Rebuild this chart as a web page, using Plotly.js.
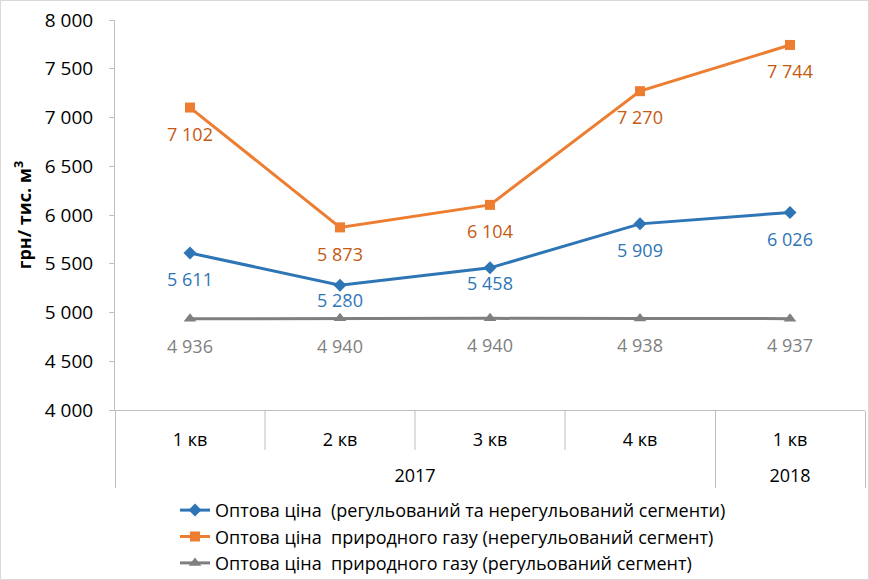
<!DOCTYPE html>
<html><head><meta charset="utf-8">
<script src="https://cdn.plot.ly/plotly-3.0.1.min.js"></script>
<style>
body{margin:0;background:#fff;}
#chart{width:869px;height:580px;}
#frame{position:absolute;left:0;top:0;width:869px;height:580px;box-sizing:border-box;border:1px solid #d9d9d9;pointer-events:none;}
</style>
</head><body>
<div id="chart"></div><div id="frame"></div>
<script>
// ---- data ----
const years = ["2017", "2017", "2017", "2017", "2018"];
const quarters = ["1 кв", "2 кв", "3 кв", "4 кв", "1 кв"];
const nameAll = "Оптова ціна  (регульований та нерегульований сегменти)";
const nameUnreg = "Оптова ціна  природного газу (нерегульований сегмент)";
const nameReg = "Оптова ціна  природного газу (регульований сегмент)";
const wholesaleAll = [5611, 5280, 5458, 5909, 6026];
const unregulated = [7102, 5873, 6104, 7270, 7744];
const regulated = [4936, 4940, 4940, 4938, 4937];
const yTitle = "грн/ тис. м<sup>3</sup>";

// style: gap (invisible marker size) between each point and its value label
const padAll = [30, 12, 12, 30, 30];
const padUnreg = [30, 30, 30, 30, 30];
const padReg = [32, 32, 30, 30, 30];

const FONT = "'Open Sans', 'Noto Sans', sans-serif";
const GRID = "#BFBFBF";
// quarter labels get an empty second line so the year row sits lower (table-like axis)
const x = [years, quarters.map(q => q + "<br>\u00a0")];

function lineTrace(name, y, color, symbol, msize, grp) {
  return {
    type: "scatter", mode: "lines+markers", name: name, x: x, y: y,
    legendgroup: grp,
    line: {color: color, width: 3},
    marker: {symbol: symbol, size: msize, color: color},
    hoverinfo: "skip"
  };
}
function labelTrace(y, color, pad) {
  return {
    type: "scatter", mode: "markers+text", x: x, y: y, showlegend: false,
    marker: {size: pad, color: "rgba(0,0,0,0)"},
    texttemplate: "%{y:,}", textposition: "bottom center",
    textfont: {family: FONT, size: 18, color: color},
    hoverinfo: "skip", cliponaxis: false
  };
}

const data = [
  labelTrace(wholesaleAll, "#2E75B6", padAll),
  labelTrace(unregulated, "#C55A11", padUnreg),
  labelTrace(regulated, "#7F7F7F", padReg),
  lineTrace(nameAll, wholesaleAll, "#2E75B6", "diamond", 10, "a"),
  lineTrace(nameUnreg, unregulated, "#ED7D31", "square", 10, "b"),
  lineTrace(nameReg, regulated, "#7F7F7F", "triangle-up", 11, "c")
];

// separators between quarters within the same year (table-style axis)
const shapes = [];
for (let i = 1; i < quarters.length; i++) {
  if (years[i] === years[i - 1]) {
    shapes.push({
      type: "line", xref: "paper", yref: "paper",
      x0: i / quarters.length, x1: i / quarters.length,
      ysizemode: "pixel", yanchor: 0, y0: 0, y1: -40,
      line: {color: GRID, width: 1}
    });
  }
}

const layout = {
  width: 869, height: 580,
  margin: {l: 115, r: 4, t: 20, b: 170, autoexpand: false},
  paper_bgcolor: "#fff", plot_bgcolor: "#fff",
  separators: ", ",
  font: {family: FONT, color: "#000", size: 18},
  showlegend: true,
  legend: {
    orientation: "v", x: 0.08, xanchor: "left", y: -0.21, yanchor: "top",
    font: {family: FONT, size: 18, color: "#000"},
    bgcolor: "rgba(0,0,0,0)", tracegroupgap: 2, traceorder: "normal"
  },
  shapes: shapes,
  xaxis: {
    type: "multicategory", range: [-0.5, quarters.length - 0.5],
    showline: true, linecolor: GRID, linewidth: 1,
    ticks: "", ticklabelstandoff: 13,
    showdividers: true, dividercolor: GRID, dividerwidth: 1,
    showgrid: false, zeroline: false, automargin: false,
    tickfont: {family: FONT, size: 18, color: "#000"}
  },
  yaxis: {
    range: [4000, 8000], dtick: 500, tick0: 4000,
    tickformat: ",", showgrid: false, zeroline: false,
    showline: true, linecolor: GRID, linewidth: 1,
    ticks: "outside", ticklen: 5, tickcolor: GRID,
    ticklabelstandoff: 12, automargin: false,
    tickfont: {family: FONT, size: 19, color: "#000"},
    title: {text: yTitle, font: {family: FONT, size: 18, color: "#000", weight: "bold"}, standoff: 8}
  }
};

Plotly.newPlot("chart", data, layout, {displayModeBar: false, staticPlot: true});
</script>
</body></html>
